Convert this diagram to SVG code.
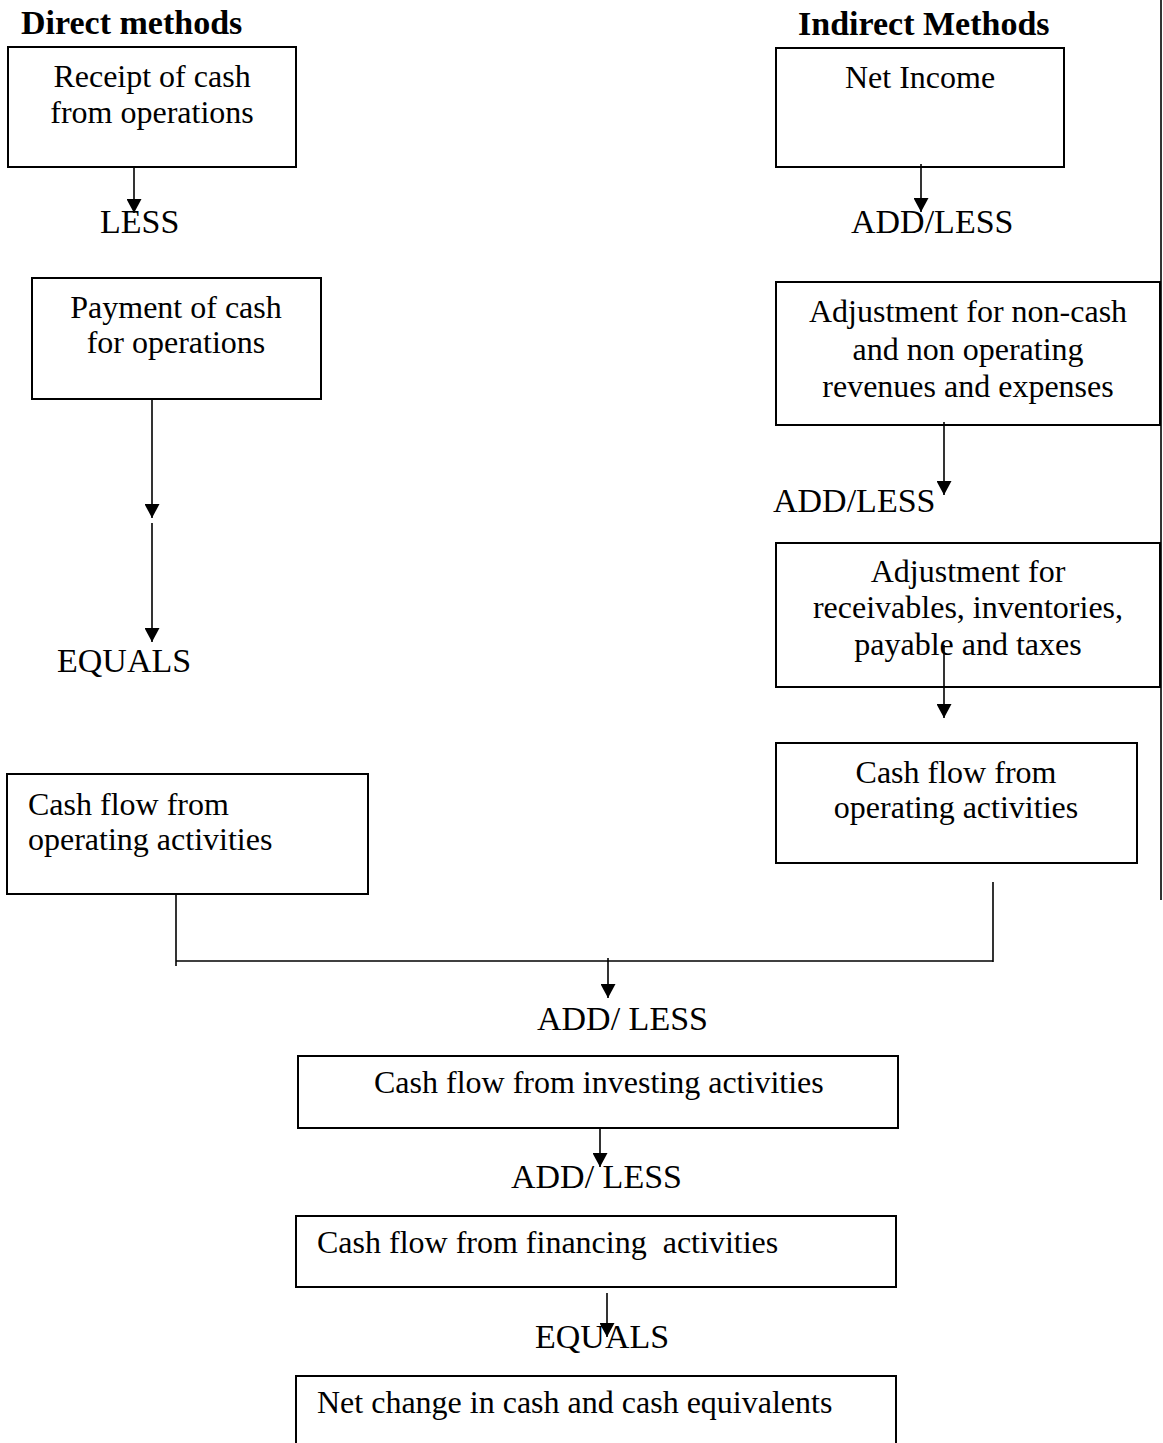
<svg xmlns="http://www.w3.org/2000/svg" width="1163" height="1443" viewBox="0 0 1163 1443">
<style>
  .box { fill: #fff; stroke: #000; stroke-width: 2; }
  .t { font-family: "Liberation Serif", "Times New Roman", serif; font-size: 32px; fill: #000; }
  .c { text-anchor: middle; }
  .lbl { font-family: "Liberation Serif", "Times New Roman", serif; font-size: 34px; fill: #000; }
  .h { font-family: "Liberation Serif", "Times New Roman", serif; font-size: 34px; font-weight: bold; fill: #000; }
  .ln { stroke: #000; stroke-width: 1.6; fill: none; }
  .arr { stroke: #000; stroke-width: 1.6; fill: none; marker-end: url(#ah); }
</style>
<defs>
  <marker id="ah" markerUnits="userSpaceOnUse" markerWidth="14" markerHeight="15" refX="14" refY="7.5" orient="auto" viewBox="0 0 14 15">
    <path d="M0,0 L14,7.5 L0,15 Z" fill="#000"/>
  </marker>
</defs>
<rect width="1163" height="1443" fill="#fff"/>

<text class="h" x="21" y="34">Direct methods</text>
<text class="h" x="798" y="35">Indirect Methods</text>

<g id="receipt">
  <rect class="box" x="8" y="47" width="288" height="120"/>
  <text class="t c" x="152" y="87">Receipt of cash</text>
  <text class="t c" x="152" y="123">from operations</text>
</g>
<g id="payment">
  <rect class="box" x="32" y="278" width="289" height="121"/>
  <text class="t c" x="176" y="318">Payment of cash</text>
  <text class="t c" x="176" y="353">for operations</text>
</g>
<g id="cfo-direct">
  <rect class="box" x="7" y="774" width="361" height="120"/>
  <text class="t" x="28" y="815">Cash flow from</text>
  <text class="t" x="28" y="850">operating activities</text>
</g>
<g id="net-income">
  <rect class="box" x="776" y="48" width="288" height="119"/>
  <text class="t c" x="920" y="88">Net Income</text>
</g>
<g id="adj1">
  <rect class="box" x="776" y="282" width="384" height="143"/>
  <text class="t c" x="968" y="322">Adjustment for non-cash</text>
  <text class="t c" x="968" y="360">and non operating</text>
  <text class="t c" x="968" y="397">revenues and expenses</text>
</g>
<g id="adj2">
  <rect class="box" x="776" y="543" width="384" height="144"/>
  <text class="t c" x="968" y="582">Adjustment for</text>
  <text class="t c" x="968" y="618">receivables, inventories,</text>
  <text class="t c" x="968" y="655">payable and taxes</text>
</g>
<g id="cfo-indirect">
  <rect class="box" x="776" y="743" width="361" height="120"/>
  <text class="t c" x="956" y="783">Cash flow from</text>
  <text class="t c" x="956" y="818">operating activities</text>
</g>
<g id="investing">
  <rect class="box" x="298" y="1056" width="600" height="72"/>
  <text class="t" x="374" y="1093">Cash flow from investing activities</text>
</g>
<g id="financing">
  <rect class="box" x="296" y="1216" width="600" height="71"/>
  <text class="t" x="317" y="1253" xml:space="preserve">Cash flow from financing  activities</text>
</g>
<g id="net-change">
  <path class="box" d="M296,1443 L296,1376 L896,1376 L896,1443" fill="none"/>
  <text class="t" x="317" y="1413">Net change in cash and cash equivalents</text>
</g>

<g id="labels">
  <text class="lbl" x="100" y="233">LESS</text>
  <text class="lbl" x="851" y="233">ADD/LESS</text>
  <text class="lbl" x="773" y="512">ADD/LESS</text>
  <text class="lbl" x="57" y="672">EQUALS</text>
  <text class="lbl" x="537" y="1030" xml:space="preserve">ADD/ LESS</text>
  <text class="lbl" x="511" y="1188" xml:space="preserve">ADD/ LESS</text>
  <text class="lbl" x="535" y="1348">EQUALS</text>
</g>

<g id="connectors">
  <line class="arr" x1="134" y1="167" x2="134" y2="213"/>
  <line class="arr" x1="152" y1="399" x2="152" y2="518"/>
  <line class="arr" x1="152" y1="523" x2="152" y2="642"/>
  <line class="arr" x1="921" y1="164" x2="921" y2="212"/>
  <line class="arr" x1="944" y1="422" x2="944" y2="495"/>
  <line class="arr" x1="944" y1="645" x2="944" y2="718"/>
  <line class="ln" x1="176" y1="894" x2="176" y2="966"/>
  <line class="ln" x1="176" y1="961" x2="993" y2="961" stroke-width="2"/>
  <line class="ln" x1="993" y1="882" x2="993" y2="962" stroke-width="2"/>
  <line class="arr" x1="608" y1="958" x2="608" y2="998"/>
  <line class="arr" x1="600" y1="1128" x2="600" y2="1167"/>
  <line class="arr" x1="607" y1="1293" x2="607" y2="1337"/>
  <line class="ln" x1="1161" y1="0" x2="1161" y2="900" stroke-width="2"/>
</g>
</svg>
